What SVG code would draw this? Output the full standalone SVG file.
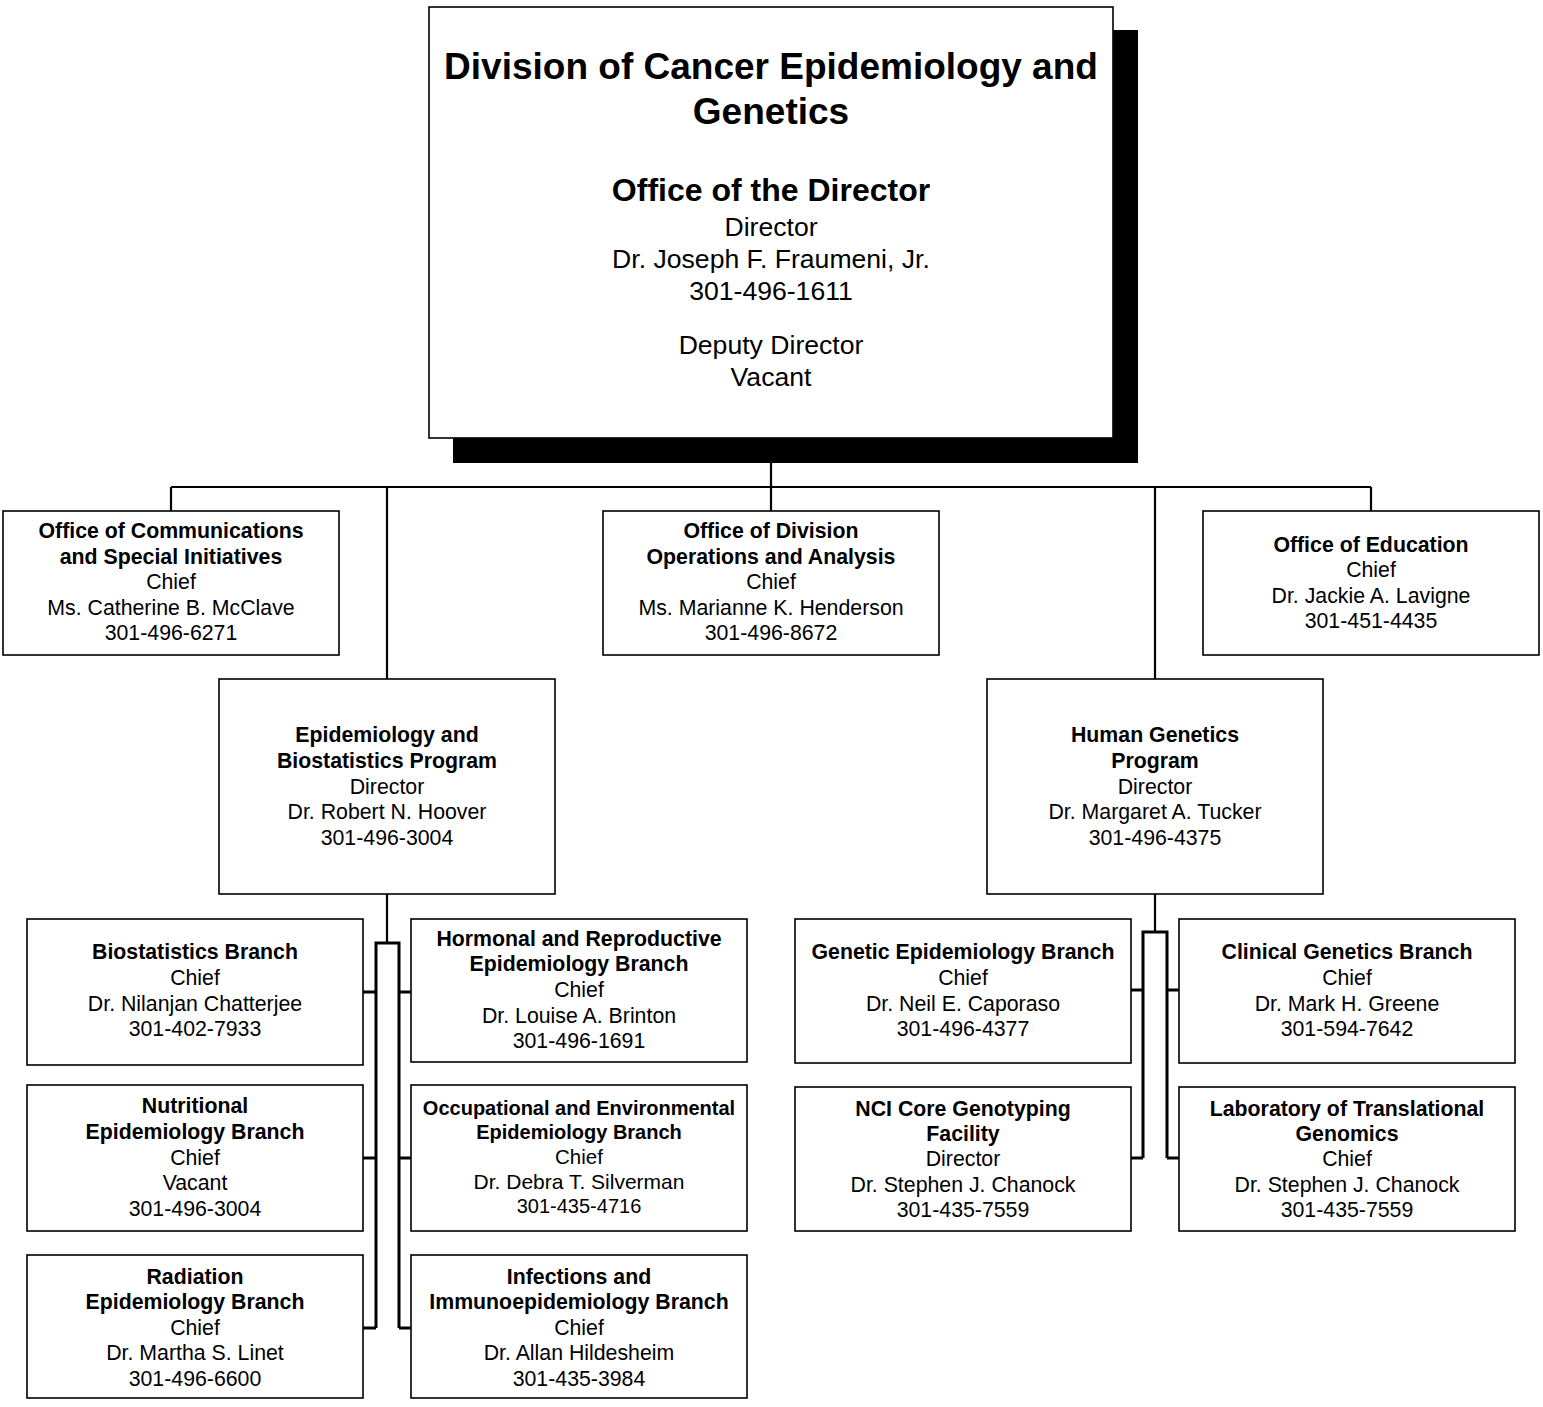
<svg xmlns="http://www.w3.org/2000/svg" width="1543" height="1407" viewBox="0 0 1543 1407">
<style>
text{font-family:"Liberation Sans",Arial,sans-serif;fill:#000;text-anchor:middle}
.b{font-weight:bold}
.t{font-size:21.3px}
.box{fill:#fff;stroke:#000;stroke-width:1.6}
.ln{fill:none;stroke:#000;stroke-width:2.2}
.br{fill:none;stroke:#000;stroke-width:3}
</style>
<rect width="1543" height="1407" fill="#fff"/>
<g id="connectors">
<path class="ln" d="M771 463V487M171 487H1371M171 487V511M387 487V679M771 487V511M1155 487V679M1371 487V511"/>
<path class="ln" d="M387 894V943M1155 894V932"/>
<path class="br" d="M376 1328V943H399V1328M1143 1158V932H1167V1158"/>
<path class="br" d="M363 992H376M399 992H411M363 1158H376M399 1158H411M363 1328H376M399 1328H411M1131 990H1143M1167 990H1180M1131 1158H1143M1167 1158H1180"/>
</g>
<g id="director">
<rect x="453" y="30" width="685" height="433" fill="#000"/>
<rect class="box" x="429" y="7" width="684" height="431"/>
<text class="b" x="771" y="79" font-size="37">Division of Cancer Epidemiology and</text>
<text class="b" x="771" y="124" font-size="37">Genetics</text>
<text class="b" x="771" y="201" font-size="32">Office of the Director</text>
<text x="771" y="236" font-size="26.6">Director</text>
<text x="771" y="268" font-size="26.6">Dr. Joseph F. Fraumeni, Jr.</text>
<text x="771" y="300" font-size="26.6">301-496-1611</text>
<text x="771" y="354" font-size="26.6">Deputy Director</text>
<text x="771" y="386" font-size="26.6">Vacant</text>
</g>
<g id="comm" class="t">
<rect class="box" x="3" y="511" width="336" height="144"/>
<text class="b" x="171" y="538">Office of Communications</text>
<text class="b" x="171" y="564">and Special Initiatives</text>
<text x="171" y="589">Chief</text>
<text x="171" y="615">Ms. Catherine B. McClave</text>
<text x="171" y="640">301-496-6271</text>
</g>
<g id="odoa" class="t">
<rect class="box" x="603" y="511" width="336" height="144"/>
<text class="b" x="771" y="538">Office of Division</text>
<text class="b" x="771" y="564">Operations and Analysis</text>
<text x="771" y="589">Chief</text>
<text x="771" y="615">Ms. Marianne K. Henderson</text>
<text x="771" y="640">301-496-8672</text>
</g>
<g id="edu" class="t">
<rect class="box" x="1203" y="511" width="336" height="144"/>
<text class="b" x="1371" y="552">Office of Education</text>
<text x="1371" y="577">Chief</text>
<text x="1371" y="603">Dr. Jackie A. Lavigne</text>
<text x="1371" y="628">301-451-4435</text>
</g>
<g id="ebp" class="t">
<rect class="box" x="219" y="679" width="336" height="215"/>
<text class="b" x="387" y="742">Epidemiology and</text>
<text class="b" x="387" y="768">Biostatistics Program</text>
<text x="387" y="794">Director</text>
<text x="387" y="819">Dr. Robert N. Hoover</text>
<text x="387" y="845">301-496-3004</text>
</g>
<g id="hgp" class="t">
<rect class="box" x="987" y="679" width="336" height="215"/>
<text class="b" x="1155" y="742">Human Genetics</text>
<text class="b" x="1155" y="768">Program</text>
<text x="1155" y="794">Director</text>
<text x="1155" y="819">Dr. Margaret A. Tucker</text>
<text x="1155" y="845">301-496-4375</text>
</g>
<g id="biostat" class="t">
<rect class="box" x="27" y="919" width="336" height="146"/>
<text class="b" x="195" y="959">Biostatistics Branch</text>
<text x="195" y="985">Chief</text>
<text x="195" y="1011">Dr. Nilanjan Chatterjee</text>
<text x="195" y="1036">301-402-7933</text>
</g>
<g id="hormonal" class="t">
<rect class="box" x="411" y="919" width="336" height="143"/>
<text class="b" x="579" y="946">Hormonal and Reproductive</text>
<text class="b" x="579" y="971">Epidemiology Branch</text>
<text x="579" y="997">Chief</text>
<text x="579" y="1023">Dr. Louise A. Brinton</text>
<text x="579" y="1048">301-496-1691</text>
</g>
<g id="nutritional" class="t">
<rect class="box" x="27" y="1085" width="336" height="146"/>
<text class="b" x="195" y="1113">Nutritional</text>
<text class="b" x="195" y="1139">Epidemiology Branch</text>
<text x="195" y="1165">Chief</text>
<text x="195" y="1190">Vacant</text>
<text x="195" y="1216">301-496-3004</text>
</g>
<g id="occupational">
<rect class="box" x="411" y="1085" width="336" height="146"/>
<text class="b" x="579" y="1115" font-size="20">Occupational and Environmental</text>
<text class="b" x="579" y="1139" font-size="20">Epidemiology Branch</text>
<text x="579" y="1164" font-size="20.5">Chief</text>
<text x="579" y="1189" font-size="21">Dr. Debra T. Silverman</text>
<text x="579" y="1213" font-size="20">301-435-4716</text>
</g>
<g id="radiation" class="t">
<rect class="box" x="27" y="1255" width="336" height="143"/>
<text class="b" x="195" y="1284">Radiation</text>
<text class="b" x="195" y="1309">Epidemiology Branch</text>
<text x="195" y="1335">Chief</text>
<text x="195" y="1360">Dr. Martha S. Linet</text>
<text x="195" y="1386">301-496-6600</text>
</g>
<g id="infections" class="t">
<rect class="box" x="411" y="1255" width="336" height="143"/>
<text class="b" x="579" y="1284">Infections and</text>
<text class="b" x="579" y="1309">Immunoepidemiology Branch</text>
<text x="579" y="1335">Chief</text>
<text x="579" y="1360">Dr. Allan Hildesheim</text>
<text x="579" y="1386">301-435-3984</text>
</g>
<g id="geneticepi" class="t">
<rect class="box" x="795" y="919" width="336" height="144"/>
<text class="b" x="963" y="959">Genetic Epidemiology Branch</text>
<text x="963" y="985">Chief</text>
<text x="963" y="1011">Dr. Neil E. Caporaso</text>
<text x="963" y="1036">301-496-4377</text>
</g>
<g id="clinical" class="t">
<rect class="box" x="1179" y="919" width="336" height="144"/>
<text class="b" x="1347" y="959">Clinical Genetics Branch</text>
<text x="1347" y="985">Chief</text>
<text x="1347" y="1011">Dr. Mark H. Greene</text>
<text x="1347" y="1036">301-594-7642</text>
</g>
<g id="nci" class="t">
<rect class="box" x="795" y="1087" width="336" height="144"/>
<text class="b" x="963" y="1116">NCI Core Genotyping</text>
<text class="b" x="963" y="1141">Facility</text>
<text x="963" y="1166">Director</text>
<text x="963" y="1192">Dr. Stephen J. Chanock</text>
<text x="963" y="1217">301-435-7559</text>
</g>
<g id="ltg" class="t">
<rect class="box" x="1179" y="1087" width="336" height="144"/>
<text class="b" x="1347" y="1116">Laboratory of Translational</text>
<text class="b" x="1347" y="1141">Genomics</text>
<text x="1347" y="1166">Chief</text>
<text x="1347" y="1192">Dr. Stephen J. Chanock</text>
<text x="1347" y="1217">301-435-7559</text>
</g>
</svg>
